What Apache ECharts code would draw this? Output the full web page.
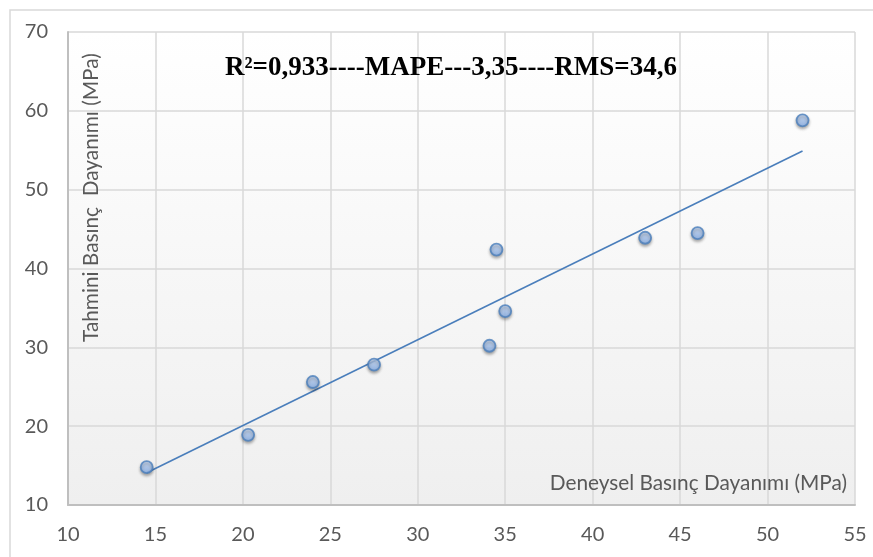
<!DOCTYPE html>
<html>
<head>
<meta charset="utf-8">
<script src="https://cdn.jsdelivr.net/npm/echarts@6/dist/echarts.min.js"></script>
<style>html,body{margin:0;padding:0;background:#fff;}#c{width:873px;height:557px;}</style>
</head>
<body>
<div id="c"></div>
<script>
const experimental = [14.5, 20.3, 24.0, 27.5, 34.1, 34.5, 35.0, 43.0, 46.0, 52.0];
const predicted    = [14.8, 18.9, 25.6, 27.8, 30.2, 42.4, 34.6, 43.9, 44.5, 58.8];
const trendX = [14.5, 52.0];
const trendY = [14.1, 54.9];
const statsText = 'R²=0,933----MAPE---3,35----RMS=34,6';
const xTitle = 'Deneysel Basınç Dayanımı (MPa)';
const yTitle = 'Tahmini Basınç  Dayanımı (MPa)';

const chart = echarts.init(document.getElementById('c'));
const pts = experimental.map((x, i) => [x, predicted[i]]);
const trend = trendX.map((x, i) => [x, trendY[i]]);
const labelFont = {color: '#595959', fontFamily: 'Lato', fontSize: 20};

chart.setOption({
  animation: false,
  backgroundColor: '#ffffff',
  grid: {
    left: 68, top: 32, right: 18, bottom: 52,
    show: true,
    borderWidth: 0,
    backgroundColor: new echarts.graphic.LinearGradient(0, 0, 0, 1, [
      {offset: 0, color: '#ffffff'},
      {offset: 1, color: '#efefef'}
    ])
  },
  xAxis: {
    type: 'value', min: 10, max: 55, interval: 5,
    axisLine: {show: true, onZero: false, lineStyle: {color: '#bfbfbf', width: 2}},
    axisTick: {show: false},
    splitLine: {show: true, lineStyle: {color: '#d9d9d9', width: 1.5}},
    axisLabel: Object.assign({margin: 20}, labelFont)
  },
  yAxis: {
    type: 'value', min: 10, max: 70, interval: 10,
    axisLine: {show: true, onZero: false, lineStyle: {color: '#bfbfbf', width: 2}},
    axisTick: {show: false},
    splitLine: {show: true, lineStyle: {color: '#d9d9d9', width: 1.5}},
    axisLabel: Object.assign({margin: 20}, labelFont)
  },
  graphic: [
    {type: 'rect', silent: true, z: -10, shape: {x: 10, y: 10, width: 900, height: 600},
     style: {fill: 'none', stroke: '#d9d9d9', lineWidth: 1.5}},
    {type: 'text', x: 225, y: 68, z: 100,
     style: {text: statsText, font: 'bold 27px "Liberation Serif", "Times New Roman", serif',
             fill: '#000000', textVerticalAlign: 'middle'}},
    {type: 'text', x: 847, y: 483, z: 100,
     style: {text: xTitle, font: '20.8px Lato', fill: '#595959',
             textAlign: 'right', textVerticalAlign: 'middle'}},
    {type: 'text', x: 91, y: 342, rotation: Math.PI / 2, z: 100,
     style: {text: yTitle, font: '20.8px Lato', fill: '#595959',
             textAlign: 'left', textVerticalAlign: 'middle'}}
  ],
  series: [
    {
      type: 'line', data: trend, symbol: 'none', z: 2,
      lineStyle: {color: '#4a7ebb', width: 1.6}
    },
    {
      type: 'scatter', data: pts, symbol: 'circle', symbolSize: 12, z: 3,
      itemStyle: {
        color: new echarts.graphic.LinearGradient(0, 0, 0, 1, [
          {offset: 0, color: '#cfe1fb'},
          {offset: 1, color: '#86afea'}
        ]),
        borderColor: '#4a7ebb', borderWidth: 1.8,
        shadowBlur: 3, shadowColor: 'rgba(0,0,0,0.35)', shadowOffsetY: 2
      }
    }
  ]
});
</script>
</body>
</html>
